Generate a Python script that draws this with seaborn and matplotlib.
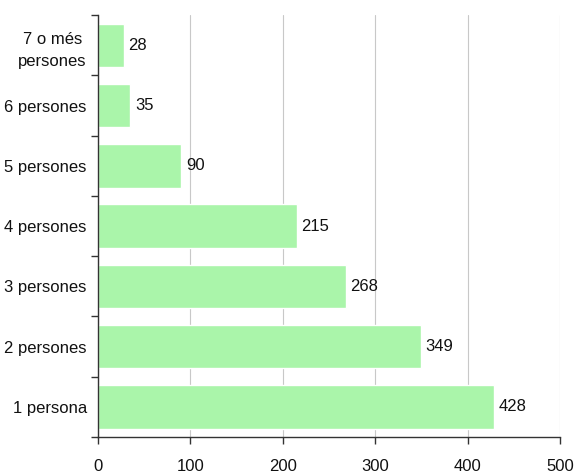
import matplotlib
import numpy as np
import pandas as pd
import seaborn as sns
from matplotlib import pyplot as plt
from matplotlib.ticker import FixedLocator

matplotlib.use("Agg")

categories = [
    "7 o més\npersones",
    "6 persones",
    "5 persones",
    "4 persones",
    "3 persones",
    "2 persones",
    "1 persona",
]
values = [28, 35, 90, 215, 268, 349, 428]
x_ticks = [0, 100, 200, 300, 400, 500]

df = pd.DataFrame({"categoria": categories, "llars": values})

sns.set_theme(style="white")
plt.rcParams["font.family"] = ["Liberation Sans", "DejaVu Sans"]

fig = plt.figure(figsize=(5.74, 4.74), dpi=100)
ax = fig.add_axes([0.1707, 0.078, 0.805, 0.89])

sns.barplot(
    data=df,
    x="llars",
    y="categoria",
    order=categories,
    orient="h",
    color="#aaf5aa",
    saturation=1,
    width=0.72,
    ax=ax,
)

for i, v in enumerate(values):
    ax.text(v + 5, i, str(v), va="center", ha="left", fontsize=12, color="#111111")

ax.set_xlim(0, 500)
ax.set_ylim(len(categories) - 0.5, -0.5)
ax.set_xticks(x_ticks)
ax.set_xticklabels([str(t) for t in x_ticks], fontsize=12)
ax.xaxis.grid(True, color="#c8c8c8", linewidth=0.8)
ax.set_axisbelow(True)

ax.yaxis.set_minor_locator(FixedLocator(np.arange(-0.5, len(categories), 1.0)))
ax.tick_params(axis="y", which="major", length=0, pad=8, labelsize=12)
ax.tick_params(axis="y", which="minor", length=5, width=1, color="#333333", direction="out", left=True)
ax.tick_params(axis="x", which="major", length=5, width=1, color="#333333", direction="out", bottom=True, pad=11)
for lbl in ax.get_yticklabels():
    lbl.set_multialignment("center")
    lbl.set_linespacing(1.6)
    lbl.set_color("#111111")
for lbl in ax.get_xticklabels():
    lbl.set_color("#111111")

ax.set_xlabel("")
ax.set_ylabel("")
for side in ["top", "right"]:
    ax.spines[side].set_visible(False)
for side in ["left", "bottom"]:
    ax.spines[side].set_color("#333333")
    ax.spines[side].set_linewidth(1)

fig.savefig("out.png", dpi=100)
